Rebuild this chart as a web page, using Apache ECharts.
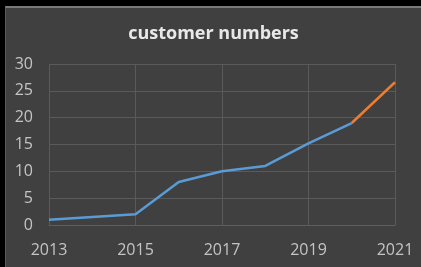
<!DOCTYPE html>
<html><head><meta charset="utf-8">
<script src="https://cdn.jsdelivr.net/npm/echarts@6/dist/echarts.min.js"></script>
<style>
html,body{margin:0;padding:0;background:#000;width:421px;height:267px;overflow:hidden;}
#wrap{position:absolute;left:5px;top:6px;width:415px;height:260px;background:#404040;border-top:2px solid #7a7a7a;border-left:1px solid #5a5a5a;}
#c{width:415px;height:260px;}
</style></head><body>
<div id="wrap"><div id="c"></div></div>
<script>
const years = ['2013','2014','2015','2016','2017','2018','2019','2020','2021'];
const actual = [1, 1.5, 2, 8, 10, 11, 15.2, 19, null];
const forecast = [null, null, null, null, null, null, null, 19, 26.6];
const yTicks = [0, 5, 10, 15, 20, 25, 30];

const chart = echarts.init(document.getElementById('c'));
chart.setOption({
  animation: false,
  backgroundColor: '#404040',
  title: {
    text: 'customer numbers', left: 'center', top: 12,
    textStyle: {color: '#e8e8e8', fontFamily: 'Open Sans', fontWeight: 'bold', fontSize: 18}
  },
  grid: {left: 43, right: 26, top: 56, bottom: 43},
  xAxis: {
    type: 'category', data: years, boundaryGap: false,
    axisLine: {lineStyle: {color: '#5e5e5e'}},
    axisTick: {show: false},
    axisLabel: {interval: 1, color: '#c4c4c4', fontFamily: 'Open Sans', fontSize: 16, margin: 17},
    splitLine: {show: true, interval: 1, lineStyle: {color: '#5a5a5a'}}
  },
  yAxis: {
    type: 'value', min: yTicks[0], max: yTicks[yTicks.length-1], interval: 5,
    axisLine: {show: false}, axisTick: {show: false},
    axisLabel: {color: '#c4c4c4', fontFamily: 'Open Sans', fontSize: 16, margin: 16},
    splitLine: {lineStyle: {color: '#5a5a5a'}}
  },
  series: [
    {type: 'line', data: actual, symbol: 'none', lineStyle: {color: '#5b9bd5', width: 2.5}},
    {type: 'line', data: forecast, symbol: 'none', lineStyle: {color: '#ed7d31', width: 2.5}}
  ]
});
</script></body></html>
